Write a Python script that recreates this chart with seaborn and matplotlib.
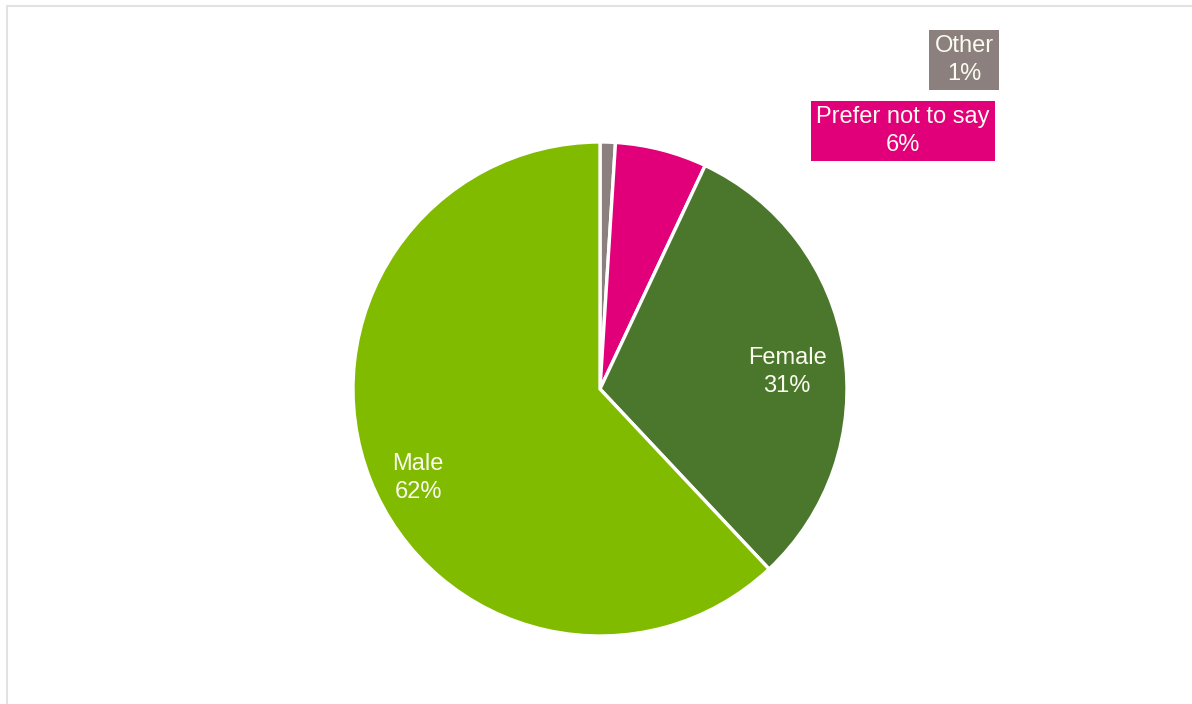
import matplotlib
matplotlib.use("Agg")
import matplotlib.pyplot as plt
import seaborn as sns

# Respondent gender breakdown (percent), clockwise from 12 o'clock
categories = ["Other", "Prefer not to say", "Female", "Male"]
shares = [1, 6, 31, 62]
colors = ["#8b807d", "#e2007a", "#4a772b", "#80bb00"]

sns.set_theme(style="white")
plt.rcParams["font.family"] = ["Liberation Sans", "DejaVu Sans"]

W, H = 1192, 704
fig = plt.figure(figsize=(W / 100, H / 100), dpi=100)
ax = fig.add_axes([0, 0, 1, 1])

cx, cy, r = 600, H - 389, 247
wedges, _ = ax.pie(
    shares, colors=colors, startangle=90, counterclock=False,
    center=(cx, cy), radius=r, frame=True,
    wedgeprops=dict(edgecolor="white", linewidth=2.4),
)
ax.set_xlim(0, W)
ax.set_ylim(0, H)
ax.set_aspect("equal")
ax.axis("off")

# frame lines on the left and top
ax.plot([7, 7], [0, H - 6], color="#e2e2e2", lw=1.5)
ax.plot([7, W], [H - 6, H - 6], color="#e2e2e2", lw=1.5)

labels = [f"{c}\n{v}%" for c, v in zip(categories, shares)]
txt_kw = dict(ha="center", va="center", color="#fbfbf0", fontsize=17,
              linespacing=1.3)

# inside labels
ax.text(787, H - 372, labels[2], **txt_kw)
ax.text(418, H - 478, labels[3], **txt_kw)

# boxed outside labels
ax.text(964, H - 60, labels[0],
        bbox=dict(boxstyle="square,pad=0.22", fc=colors[0], ec="none"), **txt_kw)
ax.text(903, H - 131, labels[1],
        bbox=dict(boxstyle="square,pad=0.22", fc=colors[1], ec="none"), **txt_kw)

fig.savefig("out.png", dpi=100, facecolor="white")
